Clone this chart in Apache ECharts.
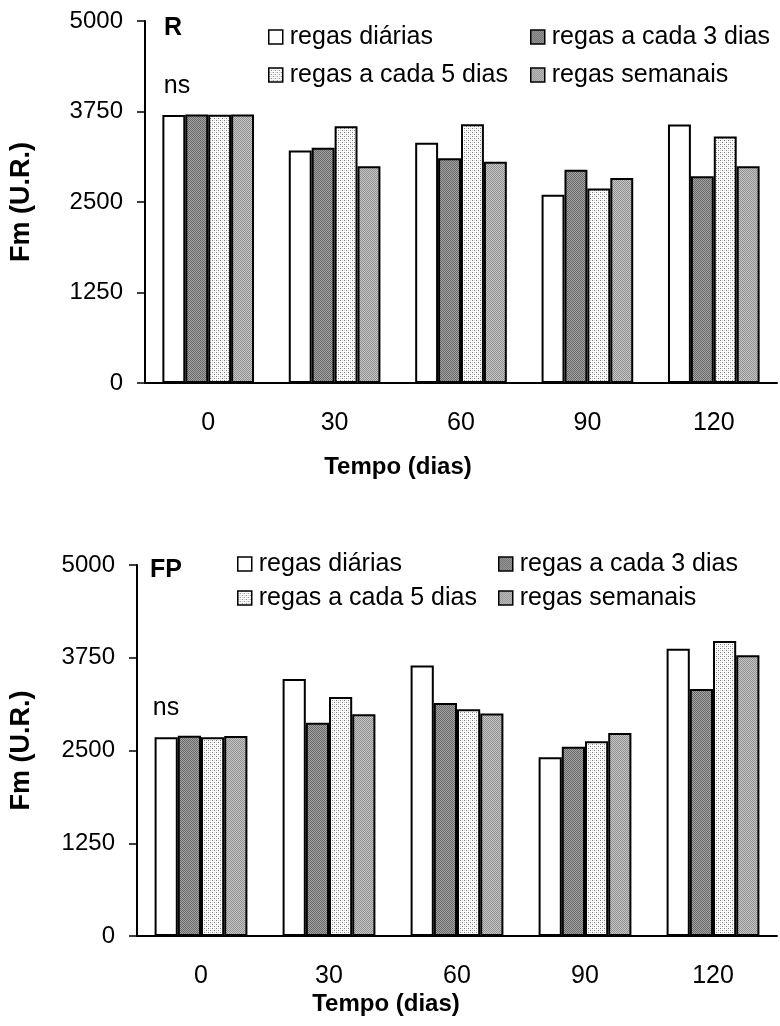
<!DOCTYPE html>
<html>
<head>
<meta charset="utf-8">
<script src="https://cdn.jsdelivr.net/npm/echarts@6/dist/echarts.min.js"></script>
<style>
  html, body { margin: 0; padding: 0; background: #fff; }
  #chart { width: 780px; height: 1026px; }
</style>
</head>
<body>
<div id="chart"></div>
<script>
// dados
var categories = ['0', '30', '60', '90', '120'];
var seriesNames = ['regas diárias', 'regas a cada 3 dias', 'regas a cada 5 dias', 'regas semanais'];
var yTicks = [0, 1250, 2500, 3750, 5000];

// painel R
var rDiarias = [3700, 3210, 3320, 2600, 3570];
var rTres = [3710, 3250, 3105, 2945, 2855];
var rCinco = [3705, 3545, 3575, 2685, 3405];
var rSemanais = [3710, 2995, 3055, 2830, 2995];

// painel FP
var fpDiarias = [2680, 3465, 3645, 2410, 3870];
var fpTres = [2700, 2875, 3140, 2550, 3330];
var fpCinco = [2680, 3220, 3055, 2625, 3975];
var fpSemanais = [2695, 2990, 3000, 2735, 3785];

(function () {
  var FONT = '"Liberation Sans", Arial, sans-serif';
  var chart = echarts.init(document.getElementById('chart'));

  function makePattern(size, base, dots) {
    var c = document.createElement('canvas');
    c.width = size;
    c.height = size;
    var ctx = c.getContext('2d');
    ctx.fillStyle = base;
    ctx.fillRect(0, 0, size, size);
    dots.forEach(function (d) {
      ctx.fillStyle = d[2];
      ctx.fillRect(d[0], d[1], 1, 1);
    });
    return { image: c, repeat: 'repeat' };
  }

  var fills = [
    '#ffffff',
    makePattern(2, '#6a6a6a', [[1, 0, '#a2a2a2'], [0, 1, '#a2a2a2']]),
    makePattern(4, '#ffffff', [[0, 0, '#7a7a7a'], [2, 2, '#7a7a7a'], [2, 0, '#d0d0d0'], [0, 2, '#d0d0d0']]),
    makePattern(2, '#909090', [[1, 0, '#c6c6c6'], [0, 1, '#c6c6c6']]),
  ];

  var panels = [
    { data: [rDiarias, rTres, rCinco, rSemanais] },
    { data: [fpDiarias, fpTres, fpCinco, fpSemanais] },
  ];

  var grids = [
    { left: 143, top: 21, right: 3, bottom: 643 },
    { left: 129, top: 565, right: 3, bottom: 90 },
  ];

  function xAxisFor(i) {
    return {
      type: 'category',
      gridIndex: i,
      data: categories,
      axisLine: { lineStyle: { color: '#000', width: 2 } },
      axisTick: { length: 8, lineStyle: { color: '#000', width: 1.5 } },
      axisLabel: { color: '#000', fontFamily: FONT, fontSize: 25, margin: 28 },
    };
  }

  function yAxisFor(i, gap) {
    return {
      type: 'value',
      gridIndex: i,
      min: yTicks[0],
      max: yTicks[yTicks.length - 1],
      interval: 1250,
      name: 'Fm (U.R.)',
      nameLocation: 'middle',
      nameGap: gap,
      nameRotate: 90,
      nameTextStyle: { color: '#000', fontFamily: FONT, fontSize: 27, fontWeight: 'bold' },
      axisLine: { show: true, lineStyle: { color: '#000', width: 2 } },
      axisTick: { show: true, length: 8, lineStyle: { color: '#000', width: 1.5 } },
      axisLabel: {
        color: '#000',
        fontFamily: FONT,
        fontSize: 24,
        margin: 22,
        formatter: function (v) { return String(v); },
      },
      splitLine: { show: false },
    };
  }

  function legendBlock(left, top, names, gap) {
    return {
      left: left,
      top: top,
      orient: 'vertical',
      padding: 0,
      itemGap: gap,
      itemWidth: 14,
      itemHeight: 14,
      icon: 'rect',
      selectedMode: false,
      data: names,
      itemStyle: { borderColor: '#000', borderWidth: 1.5 },
      textStyle: { color: '#000', fontFamily: FONT, fontSize: 25, lineHeight: 26, padding: [0, 0, 0, 2] },
    };
  }

  function label(x, y, text, size, bold) {
    return {
      type: 'text',
      x: x,
      y: y,
      style: {
        text: text,
        fill: '#000',
        font: (bold ? 'bold ' : '') + size + 'px ' + FONT,
        textAlign: 'center',
        textVerticalAlign: 'middle',
      },
    };
  }

  var series = [];
  panels.forEach(function (panel, p) {
    panel.data.forEach(function (values, s) {
      series.push({
        name: seriesNames[s],
        type: 'bar',
        xAxisIndex: p,
        yAxisIndex: p,
        data: values,
        barGap: '0%',
        barCategoryGap: '27.5%',
        itemStyle: { color: fills[s], borderColor: '#000', borderWidth: 2 },
        emphasis: { disabled: true },
      });
    });
  });

  var option = {
    animation: false,
    backgroundColor: '#fff',
    grid: grids,
    xAxis: [xAxisFor(0), xAxisFor(1)],
    yAxis: [yAxisFor(0, 110), yAxisFor(1, 102)],
    legend: [
      legendBlock(268, 24, [seriesNames[0], seriesNames[2]], 12),
      legendBlock(530, 24, [seriesNames[1], seriesNames[3]], 12),
      legendBlock(237, 551, [seriesNames[0], seriesNames[2]], 8),
      legendBlock(498, 551, [seriesNames[1], seriesNames[3]], 8),
    ],
    graphic: [
      label(173, 28, 'R', 25, true),
      label(177, 86, 'ns', 25, false),
      label(398, 467, 'Tempo (dias)', 24, true),
      label(166, 570, 'FP', 25, true),
      label(166, 708, 'ns', 25, false),
      label(386, 1004, 'Tempo (dias)', 24, true),
    ],
    series: series,
  };

  chart.setOption(option);
})();
</script>
</body>
</html>
